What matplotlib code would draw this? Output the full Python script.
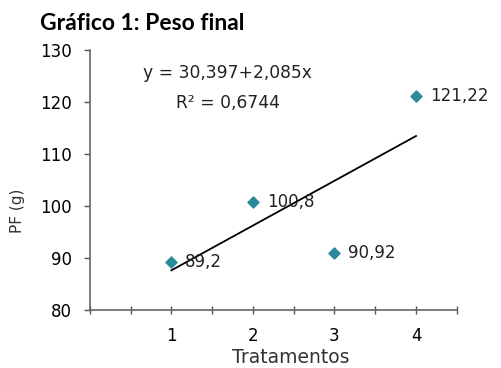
import numpy as np
import matplotlib.pyplot as plt

trat = [1, 2, 3, 4]
peso = [89.2, 100.8, 90.92, 121.22]
rotulos = ["89,2", "100,8", "90,92", "121,22"]
eq_txt = "y = 30,397+2,085x"
r2_txt = "R\u00b2 = 0,6744"

fig = plt.figure(figsize=(5.02, 3.68), dpi=100)
ax = fig.add_axes([0.179, 0.158, 0.731, 0.706])

# linha de tendencia (ajuste linear)
a, b = np.polyfit(trat, peso, 1)
xs = np.array([trat[0], trat[-1]])
ax.plot(xs, a * xs + b, color="black", lw=1.3, zorder=2)

ax.scatter(trat, peso, marker="D", s=32, color="#2b8a9c", zorder=3)
for x, y, t in zip(trat, peso, rotulos):
    ax.annotate(t, (x, y), xytext=(10, 0), textcoords="offset points",
                va="center", ha="left", fontsize=12, color="#222222")

ax.text(1.69, 125.5, eq_txt, ha="center", va="center", fontsize=12.3, color="#222222")
ax.text(1.69, 119.9, r2_txt, ha="center", va="center", fontsize=12.3, color="#222222")

ax.set_xlim(0, 4.5)
ax.set_ylim(80, 130)
ax.set_xticks(np.arange(0, 4.51, 0.5))
ax.set_xticklabels(["", "", "1", "", "2", "", "3", "", "4", ""])
ax.set_yticks(np.arange(80, 131, 10))
ax.tick_params(axis="x", direction="inout", length=6, width=1, color="#555555",
               labelsize=12, pad=9)
ax.tick_params(axis="y", direction="out", length=4, width=1, color="#555555",
               labelsize=12, pad=9)
for s in ["top", "right"]:
    ax.spines[s].set_visible(False)
for s in ["left", "bottom"]:
    ax.spines[s].set_color("#666666")
    ax.spines[s].set_linewidth(1.2)

fig.text(0.58, 0.004, "Tratamentos", fontsize=13.5, ha="center", va="bottom",
         color="#333333")
fig.text(0.034, 0.427, "PF (g)", fontsize=11, rotation=90, ha="center", va="center",
         color="#333333")

fig.text(0.08, 0.935, "Gr\u00e1fico 1: Peso final", fontsize=16.5, fontweight="bold",
         family="Lato", va="center", ha="left")

fig.savefig("out.png", dpi=100)
